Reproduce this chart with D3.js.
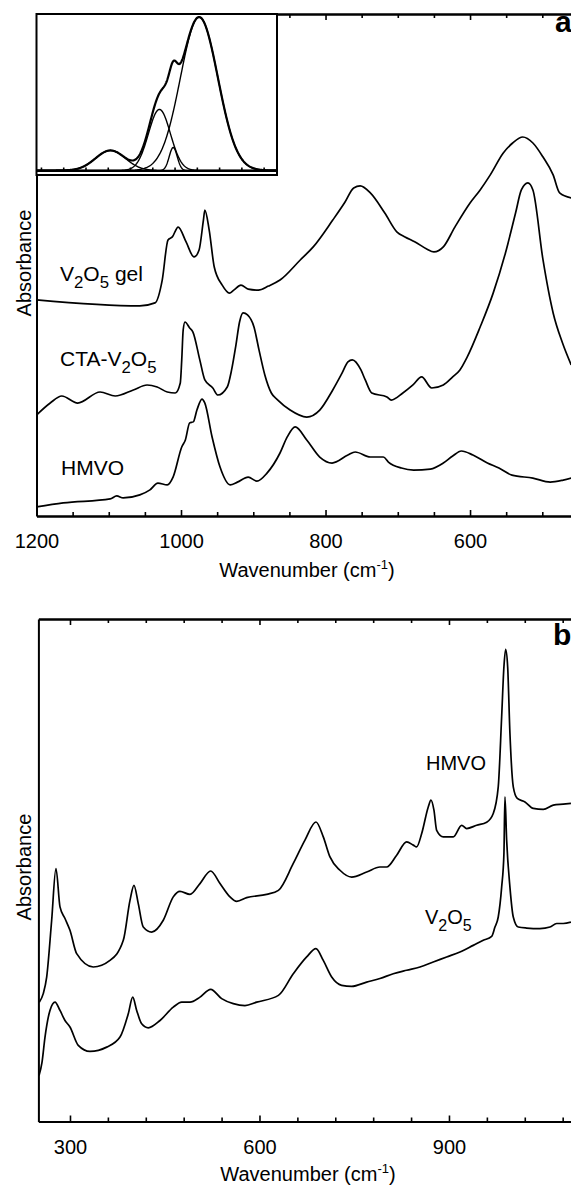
<!DOCTYPE html>
<html>
<head>
<meta charset="utf-8">
<script src="https://cdn.jsdelivr.net/npm/d3@7"></script>
<style>
  body { margin: 0; background: #fff; }
  svg { display: block; }
  text { font-family: "Liberation Sans", Arial, Helvetica, sans-serif; fill: #000; }
</style>
</head>
<body>
<svg id="chart" width="571" height="1186"></svg>
<script>
// ---------- Panel a: IR spectra, [wavenumber cm-1, absorbance] ----------
const gelSpectrum = [
  [1200,0.861],[1057,0.837],[1036,0.849],[1026,0.940],[1018,1.100],[1012,1.112],
  [1004,1.151],[993,1.092],[982,1.032],[975,1.060],[969,1.179],[967,1.219],
  [961,1.139],[954,0.992],[943,0.920],[933,0.888],[927,0.900],[917,0.920],
  [907,0.904],[893,0.900],[879,0.916],[863,0.940],[835,1.020],[817,1.072],
  [790,1.179],[773,1.251],[761,1.307],[752,1.315],[738,1.287],[718,1.207],
  [701,1.131],[690,1.112],[676,1.092],[660,1.064],[650,1.052],[637,1.072],
  [621,1.151],[600,1.247],[586,1.299],[572,1.359],[554,1.446],[541,1.486],
  [527,1.510],[513,1.486],[499,1.430],[485,1.359],[476,1.287],[460,1.267]
];
const ctaSpectrum = [
  [1200,0.402],[1181,0.450],[1165,0.478],[1143,0.450],[1112,0.494],[1091,0.478],
  [1066,0.502],[1047,0.522],[1033,0.514],[1019,0.494],[1008,0.490],[1001,0.530],
  [999,0.622],[997,0.741],[994.5,0.773],[988,0.749],[983.5,0.733],[974,0.622],
  [967,0.542],[956,0.510],[949,0.482],[936,0.514],[930,0.582],[924,0.681],
  [919,0.773],[914,0.809],[908,0.801],[899,0.753],[892,0.661],[884,0.562],
  [875,0.490],[866,0.462],[849,0.422],[826,0.394],[808,0.422],[790,0.502],
  [777,0.570],[769,0.614],[763,0.622],[751,0.582],[745,0.542],[736,0.490],
  [715,0.474],[709,0.462],[693,0.490],[679,0.522],[667,0.554],[653,0.510],
  [637,0.522],[624,0.554],[614,0.582],[604,0.633],[586,0.753],[568,0.888],
  [551,1.048],[537,1.207],[529,1.299],[520,1.327],[513,1.299],[499,1.020],
  [485,0.809],[472,0.689],[460,0.602]
];
const hmvoSpectrumA = [
  [1200,0.036],[1163,0.052],[1098,0.068],[1089,0.080],[1080,0.072],[1057,0.084],
  [1043,0.104],[1032,0.131],[1019,0.124],[1011,0.155],[999,0.275],[994,0.303],
  [988,0.371],[983,0.375],[978,0.422],[971,0.466],[967,0.450],[957,0.315],
  [946,0.195],[932,0.124],[922,0.135],[907,0.155],[895,0.139],[881,0.171],
  [863,0.251],[853,0.315],[842,0.355],[826,0.303],[808,0.235],[791,0.211],
  [769,0.243],[759,0.255],[738,0.235],[720,0.235],[713,0.215],[695,0.191],
  [678,0.183],[655,0.187],[637,0.211],[624,0.239],[612,0.259],[596,0.243],
  [576,0.211],[560,0.191],[542,0.163],[513,0.151],[489,0.135],[471,0.143],
  [460,0.151]
];
const ticksA = [1200, 1000, 800, 600];

// Inset: band fit of the V=O stretching region (centre cm-1, height, width cm-1)
const bandCenters = [1047, 992, 976.5, 947.4];
const bandHeights = [0.128, 0.39, 0.147, 0.98];
const bandWidths  = [16.8, 12.3, 4.5, 21.0];

// ---------- Panel b: [wavenumber cm-1, absorbance] ----------
const hmvoSpectrumB = [
  [251.4,0.475],[257.7,0.509],[263.1,0.575],[271,0.801],[277.8,1.007],[284.2,0.854],
  [292.1,0.808],[300,0.761],[310.6,0.668],[336.9,0.615],[363.3,0.641],[384.4,0.721],
  [395,0.880],[401.3,0.940],[408.1,0.867],[416,0.774],[429.3,0.754],[447.7,0.801],
  [463.5,0.894],[474.1,0.916],[490,0.904],[505.8,0.947],[522.7,0.997],[537.5,0.947],
  [553.3,0.894],[563.9,0.876],[579.7,0.891],[611.4,0.904],[630,0.920],[653.5,1.027],
  [672,1.120],[689.4,1.192],[701,1.133],[711.6,1.053],[727.4,1.000],[745.9,0.973],
  [769.7,0.993],[790.7,1.013],[801.3,1.013],[817.2,1.060],[833,1.113],[843.5,1.100],
  [848.8,1.093],[856.8,1.146],[867.2,1.252],[871.5,1.279],[876.2,1.239],[880.5,1.159],
  [891,1.133],[906.8,1.133],[920.1,1.179],[928,1.166],[943.8,1.179],[959.7,1.191],
  [970.1,1.226],[978,1.332],[983.4,1.611],[987,1.810],[989.7,1.879],[992.9,1.810],
  [996.5,1.545],[1001.8,1.332],[1008.1,1.286],[1020.3,1.272],[1033.4,1.246],
  [1049.3,1.242],[1065.1,1.259],[1080.9,1.263],[1093.1,1.266]
];
const v2o5SpectrumB = [
  [251,0.183],[255.7,0.235],[260.4,0.335],[268.3,0.442],[276.3,0.475],[284.2,0.442],
  [292.1,0.402],[300,0.376],[313.1,0.303],[331.7,0.279],[358.1,0.296],[379.2,0.336],
  [392.3,0.429],[399.3,0.495],[405.6,0.442],[413.5,0.389],[424,0.373],[442.5,0.402],
  [463.5,0.455],[476.8,0.475],[490,0.475],[505.8,0.495],[522.7,0.526],[540.1,0.489],
  [558.5,0.469],[577,0.461],[595.6,0.475],[630,0.502],[653.5,0.588],[674.7,0.655],
  [689.4,0.688],[701,0.641],[714.3,0.575],[730.1,0.542],[745.9,0.538],[769.7,0.555],
  [790.7,0.569],[811.8,0.588],[833,0.602],[854.1,0.615],[875.1,0.635],[896.3,0.655],
  [917.4,0.675],[938.4,0.701],[954.3,0.721],[967.6,0.737],[972.8,0.774],[978,0.814],
  [983.4,0.933],[987,1.067],[988.6,1.292],[991.3,1.120],[996.5,0.933],[1001.8,0.814],
  [1009.7,0.774],[1023,0.770],[1044,0.768],[1059.9,0.774],[1070.5,0.788],
  [1080.9,0.788],[1093.1,0.794]
];
const ticksB = [300, 600, 900];

// ---------- drawing ----------
const svg = d3.select("#chart");
const FONT = 20;

function spectrumLine(x, y) {
  return d3.line().x(d => x(d[0])).y(d => y(d[1])).curve(d3.curveMonotoneX);
}
function sortByPixel(data, x) {
  return data.slice().sort((a, b) => x(a[0]) - x(b[0]));
}
function styleAxis(g) {
  g.selectAll("path.domain").attr("stroke", "#000").attr("stroke-width", 2);
  g.selectAll(".tick line").attr("stroke", "#000").attr("stroke-width", 1.6);
  g.selectAll(".tick text").attr("font-size", FONT).attr("font-family", '"Liberation Sans", Arial, sans-serif');
}
// formula-style label with subscripts: parts = [[text, isSub], ...]
function chemLabel(x, y, parts, size) {
  const t = svg.append("text").attr("x", x).attr("y", y).attr("font-size", size);
  let shifted = false;
  parts.forEach(([s, sub]) => {
    const ts = t.append("tspan").text(s);
    if (sub && !shifted) { ts.attr("dy", 7).attr("font-size", size * 0.8); shifted = true; }
    else if (sub) { ts.attr("font-size", size * 0.8); }
    else if (!sub && shifted) { ts.attr("dy", -7); shifted = false; }
  });
  return t;
}
function axisTitle(cx, y) {
  const t = svg.append("text").attr("x", cx).attr("y", y).attr("text-anchor", "middle").attr("font-size", FONT);
  t.append("tspan").text("Wavenumber (cm");
  t.append("tspan").text("-1").attr("font-size", 13).attr("dy", -8);
  t.append("tspan").text(")").attr("dy", 8);
}
function yTitle(cx, cy) {
  svg.append("text").attr("transform", `translate(${cx},${cy}) rotate(-90)`)
    .attr("text-anchor", "middle").attr("font-size", FONT).text("Absorbance");
}

function panel(cfg) {
  const { x, y, left, top, bottom, minorStep, majorTicks, series, panelLetter } = cfg;
  const [d0, d1] = x.domain();
  const lo = Math.min(d0, d1), hi = Math.max(d0, d1);
  const all = d3.range(Math.ceil(lo / minorStep) * minorStep, hi + 0.01, minorStep);
  const minor = all.filter(v => !majorTicks.includes(v));

  // bottom axis: minor and major ticks pointing inward, labels on majors
  const gbm = svg.append("g").attr("transform", `translate(0,${bottom})`)
    .call(d3.axisBottom(x).tickValues(minor).tickSize(-4).tickSizeOuter(0).tickFormat(""));
  styleAxis(gbm);
  const gbM = svg.append("g").attr("transform", `translate(0,${bottom})`)
    .call(d3.axisBottom(x).tickValues(majorTicks).tickSize(-6).tickSizeOuter(0)
      .tickPadding(18).tickFormat(d3.format("d")));
  styleAxis(gbM);
  gbM.selectAll(".tick text").attr("dy", "0.71em");

  // top axis
  const gtm = svg.append("g").attr("transform", `translate(0,${top})`)
    .call(d3.axisTop(x).tickValues(minor).tickSize(-4).tickSizeOuter(0).tickFormat(""));
  styleAxis(gtm);
  const gtM = svg.append("g").attr("transform", `translate(0,${top})`)
    .call(d3.axisTop(x).tickValues(majorTicks).tickSize(-6).tickSizeOuter(0).tickFormat(""));
  styleAxis(gtM);

  // left axis line only
  const gl = svg.append("g").attr("transform", `translate(${left},0)`)
    .call(d3.axisLeft(y).tickValues([]).tickSizeOuter(0));
  styleAxis(gl);

  const line = spectrumLine(x, y);
  series.forEach(s => {
    svg.append("path").datum(sortByPixel(s, x)).attr("d", line)
      .attr("fill", "none").attr("stroke", "#000").attr("stroke-width", 1.7)
      .attr("stroke-linejoin", "round");
  });

  svg.append("text").attr("x", panelLetter.x).attr("y", panelLetter.y)
    .attr("font-family", '"Liberation Serif", "Times New Roman", serif')
    .attr("font-weight", "bold").attr("font-size", 30).text(panelLetter.t);
}

// Panel a
const xA = d3.scaleLinear().domain([1200, 460]).range([36.5, 571.2]);
const yA = d3.scaleLinear().domain([0, 2]).range([516, 14]);
panel({
  x: xA, y: yA, left: 36.5, top: 14, bottom: 516, minorStep: 50, majorTicks: ticksA,
  series: [gelSpectrum, ctaSpectrum, hmvoSpectrumA],
  panelLetter: { t: "a", x: 555, y: 32 }
});
chemLabel(60, 281, [["V", false], ["2", true], ["O", false], ["5", true], [" gel", false]], 21);
chemLabel(60, 366, [["CTA-V", false], ["2", true], ["O", false], ["5", true]], 21);
chemLabel(61, 475, [["HMVO", false]], 21);
axisTitle(307, 577);
yTitle(31, 263);

// Inset with band decomposition
const inX = d3.scaleLinear().domain([1130, 860]).range([36.5, 277]);
const inY = d3.scaleLinear().domain([0, 1]).range([170.5, 14]);
svg.append("rect").attr("x", 36.5).attr("y", 14).attr("width", 240.5).attr("height", 161)
  .attr("fill", "#fff").attr("stroke", "#000").attr("stroke-width", 2);
const gin = svg.append("g").attr("transform", `translate(0,${inY(0)})`)
  .call(d3.axisBottom(inX).tickValues(d3.range(1125, 860, -25)).tickSize(-3).tickSizeOuter(0).tickFormat(""));
styleAxis(gin);
const grid = d3.range(1130, 859.5, -0.5);
const band = i => w => bandHeights[i] * Math.exp(-0.5 * Math.pow((w - bandCenters[i]) / bandWidths[i], 2));
const inLine = d3.line().x(d => inX(d[0])).y(d => inY(d[1])).curve(d3.curveLinear);
bandCenters.forEach((c, i) => {
  const f = band(i);
  svg.append("path").datum(grid.map(w => [w, f(w)])).attr("d", inLine)
    .attr("fill", "none").attr("stroke", "#000").attr("stroke-width", 1.4);
});
const envelope = grid.map(w => [w, d3.sum(bandCenters, (c, i) => band(i)(w))]);
svg.append("path").datum(envelope).attr("d", inLine)
  .attr("fill", "none").attr("stroke", "#000").attr("stroke-width", 2.2);

// Panel b
const xB = d3.scaleLinear().domain([250, 1093.5]).range([38.4, 571.2]);
const yB = d3.scaleLinear().domain([0, 2]).range([1121.5, 619]);
panel({
  x: xB, y: yB, left: 38.4, top: 619, bottom: 1121.5, minorStep: 60, majorTicks: ticksB,
  series: [hmvoSpectrumB, v2o5SpectrumB],
  panelLetter: { t: "b", x: 553, y: 645 }
});
chemLabel(426, 770, [["HMVO", false]], 20);
chemLabel(425, 924, [["V", false], ["2", true], ["O", false], ["5", true]], 20);
axisTitle(308, 1181);
yTitle(31, 867);
</script>
</body>
</html>
